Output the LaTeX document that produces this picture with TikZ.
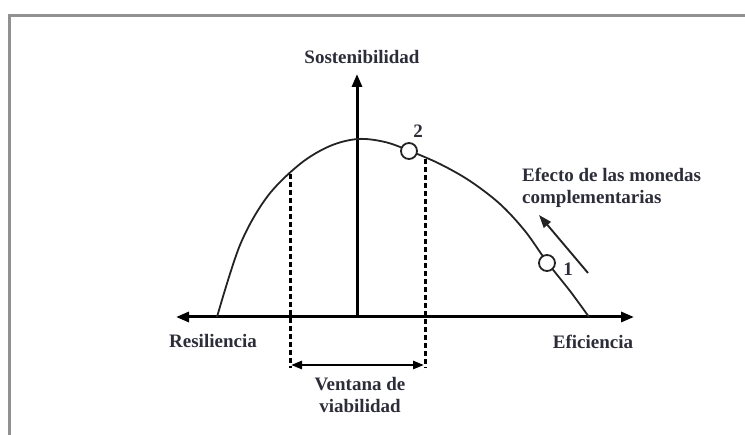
\documentclass[tikz,border=0pt]{standalone}
\usepackage{fontspec}
\setmainfont{Liberation Serif}
\usetikzlibrary{arrows.meta}
\definecolor{txt}{RGB}{45,45,58}
\definecolor{framec}{RGB}{145,145,145}
\definecolor{curvec}{RGB}{35,35,35}
\tikzset{
  lbl/.style={font=\fontsize{19}{22}\selectfont\bfseries, text=txt, inner sep=0pt, align=center},
  axisline/.style={line width=3pt, black, -{Triangle[length=13pt,width=10pt]}},
  dashline/.style={line width=3pt, black, dash pattern=on 5pt off 3pt},
  curveline/.style={line width=1.8pt, curvec},
  marker/.style={circle, draw=curvec, line width=1.8pt, fill=white, minimum size=16pt, inner sep=0pt},
  framel/.style={line width=3pt, framec}
}
\begin{document}
\begin{tikzpicture}[x=1pt,y=-1pt]
\useasboundingbox (0,0) rectangle (745,435);
% frame
\coordinate (fbl) at (9,437);
\coordinate (ftl) at (9,16);
\coordinate (ftr) at (747,16);
\draw[framel] (fbl) -- (ftl) -- (ftr);
% axes
\coordinate (o) at (357,317);
\coordinate (xl) at (176,317);
\coordinate (xr) at (634,317);
\coordinate (yt) at (357,74);
\draw[axisline] (o) -- (xr);
\draw[axisline] (o) -- (xl);
\draw[axisline] (o) -- (yt);
% curve
\draw[curveline] plot[smooth, tension=0.55] coordinates {(217,317) (240,245) (267,197) (300,164) (330,146) (358,139) (385,142) (410,151) (440,164) (470,181) (500,204) (525,231) (547,262) (570,291) (589,317)};
\node[marker] (c2) at (409,151) {};
\node[marker] (c1) at (547,263) {};
% dashed lines
\coordinate (dlt) at (290,174);
\coordinate (dlb) at (290,368);
\coordinate (drt) at (425,159);
\coordinate (drb) at (425,368);
\draw[dashline] (dlt) -- (dlb);
\draw[dashline] (drt) -- (drb);
% window arrow
\coordinate (wl) at (291,365);
\coordinate (wr) at (424,365);
\draw[line width=2.6pt, black, {Triangle[length=11pt,width=8pt]}-{Triangle[length=11pt,width=8pt]}] (wl) -- (wr);
% effect arrow
\coordinate (et) at (588,273);
\coordinate (eh) at (539,215);
\draw[line width=1.9pt, curvec, -{Triangle[length=13pt,width=9pt]}] (et) -- (eh);
% labels
\node[lbl] (sost) at (362,57) {Sostenibilidad};
\node[lbl] (res) at (213,341) {Resiliencia};
\node[lbl] (efi) at (593,342) {Eficiencia};
\node[lbl] (ven) at (360,395) {Ventana de\\viabilidad};
\node[lbl, align=left, anchor=west] (efe) at (522,188) {Efecto de las monedas\\complementarias};
\node[lbl] (n2) at (418,131) {2};
\node[lbl] (n1) at (568,269) {1};
\end{tikzpicture}
\end{document}
